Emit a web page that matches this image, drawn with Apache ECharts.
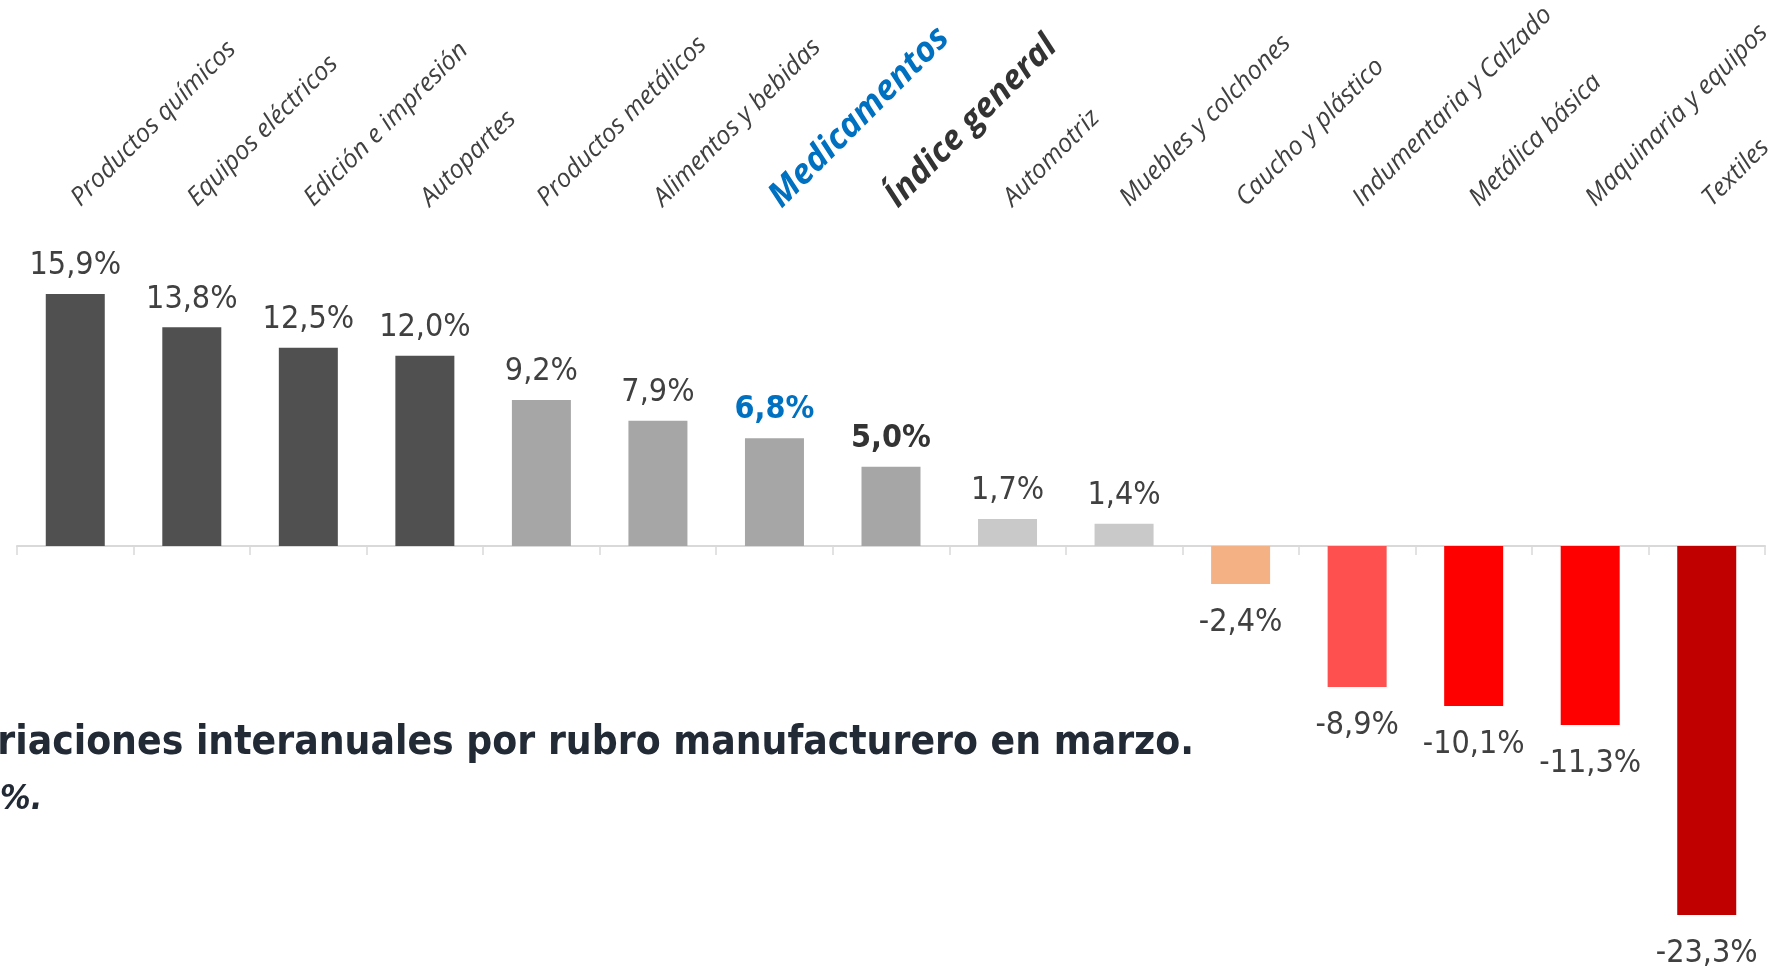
<!doctype html>
<html>
    <head>
        <meta charset="utf-8">
        <style>
            html, body { margin: 0; padding: 0; background: #fff; }
            #main { width: 1791px; height: 970px; }
        </style>
    </head>
    <body>
        <div id="main"></div>
        <script src="https://cdn.jsdelivr.net/npm/echarts@6/dist/echarts.min.js"></script>
        <script>
            var categories = ['Productos químicos', 'Equipos eléctricos', 'Edición e impresión', 'Autopartes',
                'Productos metálicos', 'Alimentos y bebidas', 'Medicamentos', 'Índice general', 'Automotriz',
                'Muebles y colchones', 'Caucho y plástico', 'Indumentaria y Calzado', 'Metálica básica',
                'Maquinaria y equipos', 'Textiles'];
            var values = [15.9, 13.8, 12.5, 12.0, 9.2, 7.9, 6.8, 5.0, 1.7, 1.4, -2.4, -8.9, -10.1, -11.3, -23.3];
            var barColors = ['#505050', '#505050', '#505050', '#505050', '#a6a6a6', '#a6a6a6', '#a6a6a6', '#a6a6a6',
                '#c9c9c9', '#c9c9c9', '#f4b183', '#ff5050', '#ff0000', '#ff0000', '#c00000'];
            var highlight = 'Medicamentos';
            var general = 'Índice general';

            var numFont = "'Liberation Sans Narrow', 'DejaVu Sans Condensed', sans-serif";
            var catFont = "'Open Sans', 'Noto Sans', sans-serif";

            var chart = echarts.init(document.getElementById('main'));

            var barData = values.map(function (v, i) {
                var lbl = { position: v < 0 ? 'bottom' : 'top', distance: v < 0 ? 23 : 12 };
                if (categories[i] === highlight) {
                    lbl.color = '#0070c0';
                    lbl.fontWeight = 'bold';
                } else if (categories[i] === general) {
                    lbl.color = '#333333';
                    lbl.fontWeight = 'bold';
                }
                return { value: v, label: lbl, itemStyle: { color: barColors[i] } };
            });

            chart.setOption({
                animation: false,
                grid: { left: 17, right: 26, top: 229, bottom: 28, outerBoundsMode: 'none', containLabel: false },
                xAxis: [{
                    type: 'category',
                    data: categories,
                    axisLine: { onZero: true, lineStyle: { color: '#d9d9d9', width: 2 } },
                    axisTick: { show: true, interval: 0, length: 9, lineStyle: { color: '#d9d9d9', width: 1.5 } },
                    axisLabel: { show: false }
                }, {
                    type: 'category',
                    position: 'top',
                    data: categories,
                    axisLine: { show: false },
                    axisTick: { show: false },
                    axisLabel: {
                        rotate: -45,
                        interval: 0,
                        margin: 27,
                        formatter: function (name) {
                            if (name === highlight) return '{hi|' + name + '}';
                            if (name === general) return '{gen|' + name + '}';
                            return '{n|' + name + '}';
                        },
                        rich: {
                            n: { fontFamily: catFont, fontStyle: 'italic', fontSize: 25.5, color: '#404040' },
                            hi: { fontFamily: catFont, fontStyle: 'italic', fontWeight: 'bold', fontSize: 34.5, color: '#0070c0' },
                            gen: { fontFamily: catFont, fontStyle: 'italic', fontWeight: 'bold', fontSize: 34, color: '#333333' }
                        }
                    }
                }],
                yAxis: {
                    type: 'value',
                    min: -25,
                    max: 20,
                    show: false
                },
                series: [{
                    type: 'bar',
                    xAxisIndex: 0,
                    barWidth: 59,
                    data: barData,
                    label: {
                        show: true,
                        fontFamily: numFont,
                        fontSize: 32,
                        color: '#404040',
                        formatter: function (p) {
                            return p.value.toFixed(1).replace('.', ',') + '%';
                        }
                    }
                }],
                graphic: [{
                    type: 'text',
                    right: 597,
                    top: 724,
                    style: {
                        text: 'riaciones interanuales por rubro manufacturero en marzo.',
                        font: "bold 40.4px " + numFont,
                        fill: '#222a35'
                    }
                }, {
                    type: 'text',
                    left: 0,
                    top: 783,
                    style: {
                        text: '%.',
                        font: "italic bold 34px " + numFont,
                        fill: '#222a35'
                    }
                }]
            });

            window.onresize = chart.resize;
        </script>
    </body>
</html>
